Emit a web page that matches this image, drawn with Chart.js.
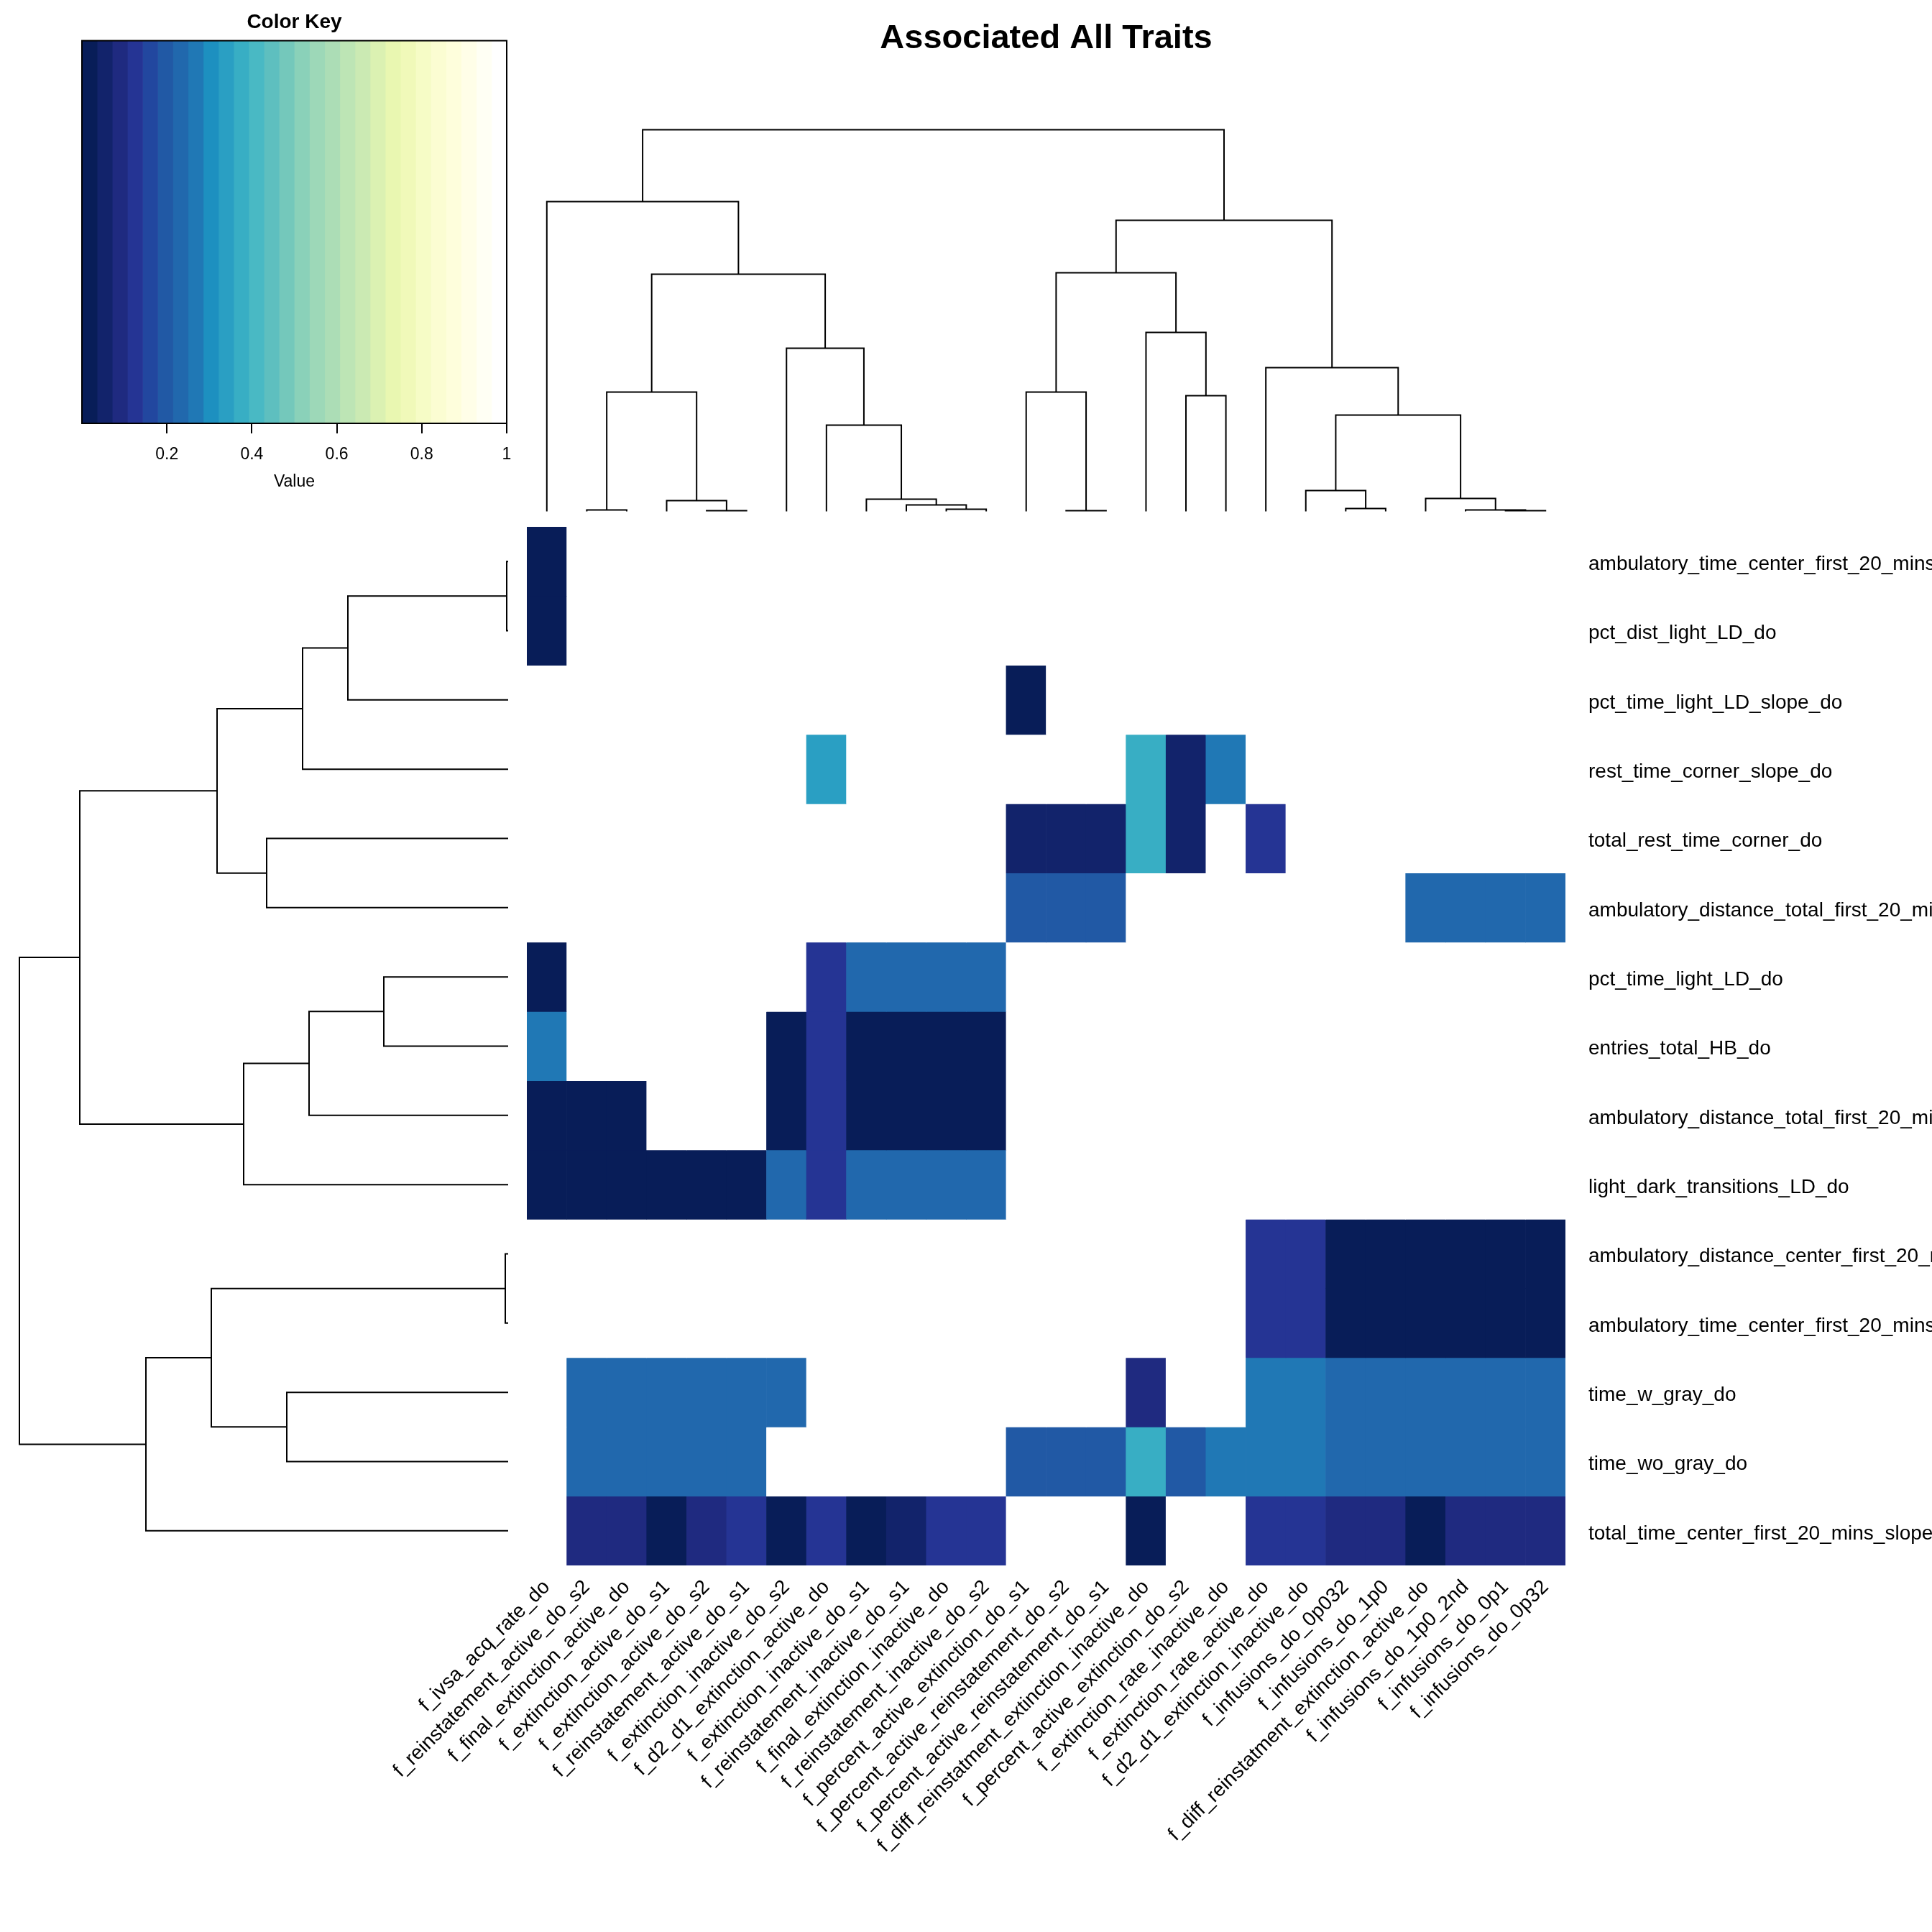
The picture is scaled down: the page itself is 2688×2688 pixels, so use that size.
<!DOCTYPE html>
<html>
<head>
<meta charset="utf-8">
<script src="https://cdn.jsdelivr.net/npm/chart.js@4"></script>
<style>
  body { margin: 0; background: #fff; }
  canvas { position: absolute; }
</style>
</head>
<body>
<canvas id="key" width="733" height="700" style="left:0;top:0"></canvas>
<canvas id="coldendro" width="1445" height="730" style="left:733px;top:0"></canvas>
<canvas id="rowdendro" width="733" height="1445" style="left:0;top:733px"></canvas>
<canvas id="heat" width="2308" height="1955" style="left:380px;top:733px"></canvas>
<script>
// Column / row labels (in dendrogram order)
const colLabels = [
  'f_ivsa_acq_rate_do', 'f_reinstatement_active_do_s2', 'f_final_extinction_active_do',
  'f_extinction_active_do_s1', 'f_extinction_active_do_s2', 'f_reinstatement_active_do_s1',
  'f_extinction_inactive_do_s2', 'f_d2_d1_extinction_active_do', 'f_extinction_inactive_do_s1',
  'f_reinstatement_inactive_do_s1', 'f_final_extinction_inactive_do', 'f_reinstatement_inactive_do_s2',
  'f_percent_active_extinction_do_s1', 'f_percent_active_reinstatement_do_s2',
  'f_percent_active_reinstatement_do_s1', 'f_diff_reinstatment_extinction_inactive_do',
  'f_percent_active_extinction_do_s2', 'f_extinction_rate_inactive_do', 'f_extinction_rate_active_do',
  'f_d2_d1_extinction_inactive_do', 'f_infusions_do_0p032', 'f_infusions_do_1p0',
  'f_diff_reinstatment_extinction_active_do', 'f_infusions_do_1p0_2nd', 'f_infusions_do_0p1',
  'f_infusions_do_0p32'
];
const rowLabels = [
  'ambulatory_time_center_first_20_mins_do', 'pct_dist_light_LD_do', 'pct_time_light_LD_slope_do',
  'rest_time_corner_slope_do', 'total_rest_time_corner_do', 'ambulatory_distance_total_first_20_mins_slope_do',
  'pct_time_light_LD_do', 'entries_total_HB_do', 'ambulatory_distance_total_first_20_mins_do',
  'light_dark_transitions_LD_do', 'ambulatory_distance_center_first_20_mins_slope_do',
  'ambulatory_time_center_first_20_mins_slope_do', 'time_w_gray_do', 'time_wo_gray_do',
  'total_time_center_first_20_mins_slope_do'
];

// Cell values (0..1), one array per row
const W = 1;
const cellValues = [
  [0.01, W, W, W, W, W, W, W, W, W, W, W, W, W, W, W, W, W, W, W, W, W, W, W, W, W],
  [0.01, W, W, W, W, W, W, W, W, W, W, W, W, W, W, W, W, W, W, W, W, W, W, W, W, W],
  [W, W, W, W, W, W, W, W, W, W, W, W, 0.01, W, W, W, W, W, W, W, W, W, W, W, W, W],
  [W, W, W, W, W, W, W, 0.33, W, W, W, W, W, W, W, 0.37, 0.05, 0.26, W, W, W, W, W, W, W, W],
  [W, W, W, W, W, W, W, W, W, W, W, W, 0.05, 0.05, 0.05, 0.37, 0.05, W, 0.12, W, W, W, W, W, W, W],
  [W, W, W, W, W, W, W, W, W, W, W, W, 0.19, 0.19, 0.19, W, W, W, W, W, W, W, 0.22, 0.22, 0.22, 0.22],
  [0.01, W, W, W, W, W, W, 0.12, 0.22, 0.22, 0.22, 0.22, W, W, W, W, W, W, W, W, W, W, W, W, W, W],
  [0.26, W, W, W, W, W, 0.01, 0.12, 0.01, 0.01, 0.01, 0.01, W, W, W, W, W, W, W, W, W, W, W, W, W, W],
  [0.01, 0.01, 0.01, W, W, W, 0.01, 0.12, 0.01, 0.01, 0.01, 0.01, W, W, W, W, W, W, W, W, W, W, W, W, W, W],
  [0.01, 0.01, 0.01, 0.01, 0.01, 0.01, 0.22, 0.12, 0.22, 0.22, 0.22, 0.22, W, W, W, W, W, W, W, W, W, W, W, W, W, W],
  [W, W, W, W, W, W, W, W, W, W, W, W, W, W, W, W, W, W, 0.12, 0.12, 0.01, 0.01, 0.01, 0.01, 0.01, 0.01],
  [W, W, W, W, W, W, W, W, W, W, W, W, W, W, W, W, W, W, 0.12, 0.12, 0.01, 0.01, 0.01, 0.01, 0.01, 0.01],
  [W, 0.22, 0.22, 0.22, 0.22, 0.22, 0.22, W, W, W, W, W, W, W, W, 0.08, W, W, 0.26, 0.26, 0.22, 0.22, 0.22, 0.22, 0.22, 0.22],
  [W, 0.22, 0.22, 0.22, 0.22, 0.22, W, W, W, W, W, W, 0.19, 0.19, 0.19, 0.37, 0.19, 0.26, 0.26, 0.26, 0.22, 0.22, 0.22, 0.22, 0.22, 0.22],
  [W, 0.08, 0.08, 0.01, 0.08, 0.12, 0.01, 0.12, 0.01, 0.05, 0.12, 0.12, W, W, W, 0.01, W, W, 0.12, 0.12, 0.08, 0.08, 0.01, 0.08, 0.08, 0.08]
];

// Column dendrogram: merges (negative = leaf position, positive = earlier merge) and heights
const colMerges = [[-2, -3], [-5, -6], [-4, 2], [1, 3], [-11, -12], [-10, 5], [-9, 6], [-8, 7], [-7, 8],
  [4, 9], [-1, 10], [-14, -15], [-13, 12], [-17, -18], [-16, 14], [13, 15], [-21, -22], [-20, 17],
  [-25, -26], [-24, 19], [-23, 20], [18, 21], [-19, 22], [16, 23], [11, 24]];
const colHeights = [0.02, 0.01, 0.15, 1.66, 0.03, 0.09, 0.17, 1.20, 2.27, 3.30, 4.31, 0.01, 1.66, 1.61,
  2.49, 3.32, 0.04, 0.29, 0.01, 0.02, 0.18, 1.34, 2.00, 4.05, 5.31];

// Row dendrogram
const rowMerges = [[-1, -2], [-3, 1], [-4, 2], [-5, -6], [3, 4], [-7, -8], [-9, 6], [-10, 7], [5, 8],
  [-11, -12], [-13, -14], [10, 11], [-15, 12], [9, 13]];
const rowHeights = [0.02, 2.23, 2.86, 3.36, 4.05, 1.73, 2.77, 3.68, 5.96, 0.04, 3.08, 4.13, 5.04, 6.80];

// Color key bins (YlGnBu reversed, ending in white)
const keyColors = ['#081d58', '#12236b', '#1f2a80', '#253494', '#22479f', '#2159a5', '#2168ad',
  '#2078b5', '#1d90c0', '#2a9fc3', '#38aec4', '#49b9c4', '#5ebfbf', '#74c8bb', '#8ad1b9', '#9dd8b8',
  '#acddb6', '#bde5b5', '#cbeab3', '#dbf1b2', '#e9f7b1', '#f0f9b9', '#f6fcc6', '#fbfdd2', '#fefedc',
  '#fffee8', '#fffff4', '#ffffff'];
const keyTicks = [0.2, 0.4, 0.6, 0.8, 1];

Chart.defaults.font.family = '"Liberation Sans", Arial, Helvetica, sans-serif';
Chart.defaults.color = '#000';

const nBins = keyColors.length;
function valueColor(v) {
  return keyColors[Math.min(nBins - 1, Math.floor(v * nBins))];
}

function dendroSegments(merges, heights, sideways) {
  const pos = [], hgt = [], segs = [];
  merges.forEach(([a, b], i) => {
    const pa = a < 0 ? -a : pos[a - 1], ha = a < 0 ? 0 : hgt[a - 1];
    const pb = b < 0 ? -b : pos[b - 1], hb = b < 0 ? 0 : hgt[b - 1];
    const h = heights[i];
    pos[i] = (pa + pb) / 2;
    hgt[i] = h;
    const pts = [[pa, ha], [pa, h], [pb, h], [pb, hb]];
    segs.push(pts.map(([p, v]) => sideways ? { x: v, y: p } : { x: p, y: v }));
  });
  return segs;
}

function lineSets(segs) {
  return segs.map(d => ({
    data: d, showLine: true, borderColor: '#000', borderWidth: 2,
    pointRadius: 0, tension: 0, clip: false
  }));
}

// keep the plot area fixed: fixed axis size, no extra label padding
function fixSize(prop, size) {
  return s => {
    s[prop] = size;
    s.paddingLeft = s.paddingRight = s.paddingTop = s.paddingBottom = 0;
  };
}

const noPlugins = { legend: { display: false }, tooltip: { enabled: false } };

// frame around the color key
const framePlugin = {
  id: 'frame',
  afterDraw(chart) {
    const a = chart.chartArea, c = chart.ctx;
    c.save();
    c.strokeStyle = '#000';
    c.lineWidth = 2;
    c.strokeRect(a.left, a.top, a.right - a.left, a.bottom - a.top);
    c.restore();
  }
};

// Color key
new Chart(document.getElementById('key'), {
  type: 'bar',
  data: {
    labels: [''],
    datasets: keyColors.map((c, k) => ({
      data: [[k / nBins, (k + 1) / nBins]],
      backgroundColor: c, borderWidth: 0,
      barPercentage: 1, categoryPercentage: 1, grouped: false
    }))
  },
  options: {
    indexAxis: 'y',
    responsive: false,
    animation: false,
    layout: { padding: { left: 114, right: 28 }, autoPadding: false },
    plugins: {
      ...noPlugins,
      title: {
        display: true, text: 'Color Key', color: '#000',
        font: { size: 28, weight: 'bold' }, padding: { top: 14, bottom: 9 }
      }
    },
    scales: {
      x: {
        type: 'linear', min: 0, max: 1, position: 'bottom',
        grid: { display: true, drawOnChartArea: false, tickLength: 14, color: '#000', lineWidth: 2 },
        border: { display: false },
        ticks: { font: { size: 23 }, padding: 16, callback: v => v === 1 ? '1' : v.toFixed(1) },
        afterBuildTicks: s => { s.ticks = keyTicks.map(v => ({ value: v })); },
        title: { display: true, text: 'Value', font: { size: 23 }, padding: { top: 0, bottom: 16 } },
        afterFit: fixSize('height', 111)
      },
      y: { display: false }
    }
  },
  plugins: [framePlugin]
});

// Column dendrogram + main title
new Chart(document.getElementById('coldendro'), {
  type: 'scatter',
  data: { datasets: lineSets(dendroSegments(colMerges, colHeights, false)) },
  options: {
    responsive: false,
    animation: false,
    layout: { padding: { bottom: 18.5 }, autoPadding: false },
    plugins: {
      ...noPlugins,
      title: {
        display: true, text: 'Associated All Traits', color: '#000',
        font: { size: 47, weight: 'bold' }, padding: { top: 26, bottom: 98 }
      }
    },
    scales: {
      x: { type: 'linear', min: 0.5, max: colLabels.length + 0.5, display: false },
      y: { type: 'linear', min: 0, max: colHeights[colHeights.length - 1], display: false }
    }
  }
});

// Row dendrogram
new Chart(document.getElementById('rowdendro'), {
  type: 'scatter',
  data: { datasets: lineSets(dendroSegments(rowMerges, rowHeights, true)) },
  options: {
    responsive: false,
    animation: false,
    layout: { padding: { left: 27, right: 26 }, autoPadding: false },
    plugins: noPlugins,
    scales: {
      x: { type: 'linear', min: 0, max: rowHeights[rowHeights.length - 1], reverse: true, display: false },
      y: { type: 'linear', min: 0.5, max: rowLabels.length + 0.5, reverse: true, display: false }
    }
  }
});

// Heatmap: one dataset per row, floating bars spanning [r, r+1]
new Chart(document.getElementById('heat'), {
  type: 'bar',
  data: {
    labels: colLabels,
    datasets: cellValues.map((vals, r) => ({
      label: rowLabels[r],
      data: vals.map(() => [r, r + 1]),
      backgroundColor: vals.map(valueColor),
      borderWidth: 0, barPercentage: 1, categoryPercentage: 1, grouped: false
    }))
  },
  options: {
    responsive: false,
    animation: false,
    layout: { padding: { left: 353 }, autoPadding: false },
    plugins: noPlugins,
    scales: {
      x: {
        position: 'bottom',
        grid: { display: false, drawTicks: false },
        border: { display: false },
        ticks: { font: { size: 28 }, minRotation: 45, maxRotation: 45, autoSkip: false, padding: 14 },
        afterFit: fixSize('height', 510)
      },
      y: {
        type: 'linear', position: 'right', min: 0, max: rowLabels.length, reverse: true,
        grid: { display: false, drawTicks: false },
        border: { display: false },
        ticks: {
          font: { size: 28 }, autoSkip: false, padding: 32, labelOffset: 4,
          callback: v => rowLabels[Math.floor(v)]
        },
        afterBuildTicks: s => { s.ticks = rowLabels.map((_, i) => ({ value: i + 0.5 })); },
        afterFit: fixSize('width', 510)
      }
    }
  }
});
</script>
</body>
</html>
